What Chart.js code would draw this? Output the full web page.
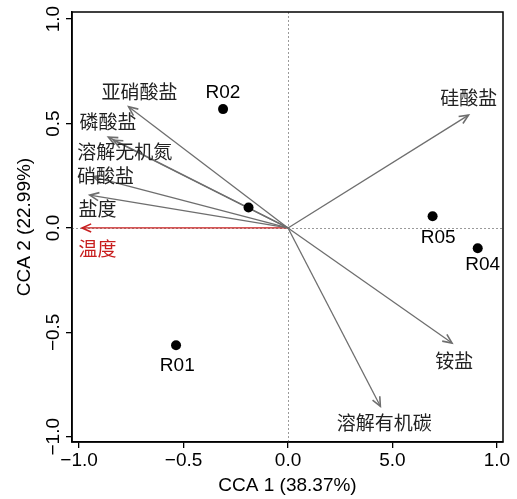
<!DOCTYPE html>
<html><head><meta charset="utf-8">
<script src="https://cdn.jsdelivr.net/npm/chart.js@4"></script>
<style>html,body{margin:0;padding:0;background:#fff;}</style>
</head><body>
<canvas id="c" width="517" height="499"></canvas>
<script>
// ---- data ----
const sampleNames = ['R01','R02','R03','R04','R05'];
const sampleX = [-0.536, -0.311, -0.189, 0.908, 0.692];
const sampleY = [-0.562, 0.569, 0.098, -0.097, 0.056];
const sampleLabels = ['R01', 'R02', '', 'R04', 'R05'];
const sampleLabelX = [-0.530, -0.312, null, 0.932, 0.719];
const sampleLabelY = [-0.660, 0.648, null, -0.176, -0.045];

const envNames = ['亚硝酸盐','磷酸盐','溶解无机氮','硝酸盐','盐度','温度','硅酸盐','铵盐','溶解有机碳'];
const envX = [-0.763, -0.860, -0.836, -0.933, -0.949, -0.986, 0.864, 0.785, 0.442];
const envY = [0.580, 0.435, 0.420, 0.245, 0.157, 0.0, 0.540, -0.551, -0.854];
const envLabelX = [-0.711, -0.862, -0.781, -0.874, -0.912, -0.912, 0.865, 0.796, 0.461];
const envLabelY = [0.650, 0.506, 0.363, 0.248, 0.090, -0.102, 0.621, -0.634, -0.932];
const highlightVar = '温度';

const xTickValues = [-1, -0.5, 0, 0.5, 1];
const xTickLabels = ['−1.0', '−0.5', '0.0', '5.0', '1.0'];
const yTickValues = [-1, -0.5, 0, 0.5, 1];
const yTickLabels = ['−1.0', '−0.5', '0.0', '0.5', '1.0'];
const xTitle = 'CCA 1 (38.37%)';
const yTitle = 'CCA 2 (22.99%)';

// ---- styles ----
const LATIN = '"Liberation Sans", Arial, sans-serif';
const CJK = '"Noto Sans CJK SC", "Liberation Sans", sans-serif';
const ARROW = '#6e6e6e';
const RED = '#c81e1e';

const datasets = [{
  label: 'samples',
  data: sampleX.map((x, i) => ({x, y: sampleY[i]})),
  pointRadius: 5, pointHoverRadius: 5,
  backgroundColor: '#000', borderColor: '#000', borderWidth: 0
}];
envNames.forEach((n, i) => {
  const c = n === highlightVar ? RED : ARROW;
  datasets.push({
    label: n,
    data: [{x: 0, y: 0}, {x: envX[i], y: envY[i]}],
    showLine: true, borderColor: c, borderWidth: 1.3,
    pointRadius: 0, pointHoverRadius: 0, isArrow: true
  });
});

const zeroLines = {
  id: 'zeroLines',
  beforeDatasetsDraw(chart) {
    const {ctx, chartArea: a, scales: {x, y}} = chart;
    ctx.save();
    ctx.strokeStyle = '#9a9a9a'; ctx.lineWidth = 1; ctx.setLineDash([2, 2]);
    const px = Math.round(x.getPixelForValue(0)) + 0.5;
    const py = Math.round(y.getPixelForValue(0)) + 0.5;
    ctx.beginPath(); ctx.moveTo(px, a.top); ctx.lineTo(px, a.bottom); ctx.stroke();
    ctx.beginPath(); ctx.moveTo(a.left, py); ctx.lineTo(a.right, py); ctx.stroke();
    ctx.restore();
  }
};

const arrowsAndLabels = {
  id: 'arrowsAndLabels',
  afterDatasetsDraw(chart) {
    const {ctx, scales: {x, y}} = chart;
    ctx.save();
    chart.data.datasets.forEach((ds, di) => {
      if (!ds.isArrow) return;
      const meta = chart.getDatasetMeta(di);
      const p0 = meta.data[0], p1 = meta.data[1];
      const ang = Math.atan2(p1.y - p0.y, p1.x - p0.x);
      const L = 10, w = Math.PI / 7.5;
      ctx.strokeStyle = ds.borderColor; ctx.lineWidth = 1.6; ctx.setLineDash([]);
      ctx.beginPath();
      ctx.moveTo(p1.x - L * Math.cos(ang - w), p1.y - L * Math.sin(ang - w));
      ctx.lineTo(p1.x, p1.y);
      ctx.lineTo(p1.x - L * Math.cos(ang + w), p1.y - L * Math.sin(ang + w));
      ctx.stroke();
    });
    ctx.textAlign = 'center'; ctx.textBaseline = 'middle';
    ctx.font = '19px ' + CJK;
    envNames.forEach((n, i) => {
      ctx.fillStyle = n === highlightVar ? RED : '#222';
      ctx.fillText(n, x.getPixelForValue(envLabelX[i]), y.getPixelForValue(envLabelY[i]));
    });
    ctx.font = '19px ' + LATIN; ctx.fillStyle = '#000';
    sampleLabels.forEach((n, i) => {
      if (!n) return;
      ctx.fillText(n, x.getPixelForValue(sampleLabelX[i]), y.getPixelForValue(sampleLabelY[i]));
    });
    ctx.restore();
  }
};

const frame = {
  id: 'frame',
  afterDraw(chart) {
    const {ctx, chartArea: a} = chart;
    ctx.save();
    ctx.strokeStyle = '#000'; ctx.lineWidth = 1.5;
    ctx.strokeRect(a.left, a.top, a.right - a.left, a.bottom - a.top);
    ctx.restore();
  }
};

const tickFont = {size: 19, family: LATIN};
new Chart(document.getElementById('c'), {
  type: 'scatter',
  data: {datasets},
  plugins: [zeroLines, arrowsAndLabels, frame],
  options: {
    responsive: false, devicePixelRatio: 1, animation: false,
    layout: {padding: {top: 12, right: 14, left: 0, bottom: 0}},
    plugins: {legend: {display: false}, tooltip: {enabled: false}},
    scales: {
      x: {
        type: 'linear', min: -1.034, max: 1.029,
        afterBuildTicks: s => { s.ticks = xTickValues.map(v => ({value: v})); },
        afterFit: s => { s.height = 57; },
        ticks: {
          callback: v => xTickLabels[xTickValues.indexOf(v)],
          font: tickFont, color: '#000', maxRotation: 0, minRotation: 0, autoSkip: false, padding: 1
        },
        grid: {drawOnChartArea: false, tickLength: 6, color: '#000', tickColor: '#000', lineWidth: 1.3},
        border: {display: true, color: '#000', width: 1.5},
        title: {display: true, text: xTitle, font: {size: 19, family: LATIN}, color: '#000', padding: {top: 0, bottom: 2}}
      },
      y: {
        type: 'linear', min: -1.025, max: 1.034,
        afterBuildTicks: s => { s.ticks = yTickValues.map(v => ({value: v})); },
        afterFit: s => { s.width = 72; },
        ticks: {
          callback: v => yTickLabels[yTickValues.indexOf(v)],
          font: tickFont, color: '#000', minRotation: 90, maxRotation: 90, autoSkip: false,
          crossAlign: 'center', padding: -7
        },
        grid: {drawOnChartArea: false, tickLength: 6, color: '#000', tickColor: '#000', lineWidth: 1.3},
        border: {display: true, color: '#000', width: 1.5},
        title: {display: true, text: yTitle, font: {size: 19, family: LATIN}, color: '#000', padding: {top: 13, bottom: 0}}
      }
    }
  }
});
</script>
</body></html>
